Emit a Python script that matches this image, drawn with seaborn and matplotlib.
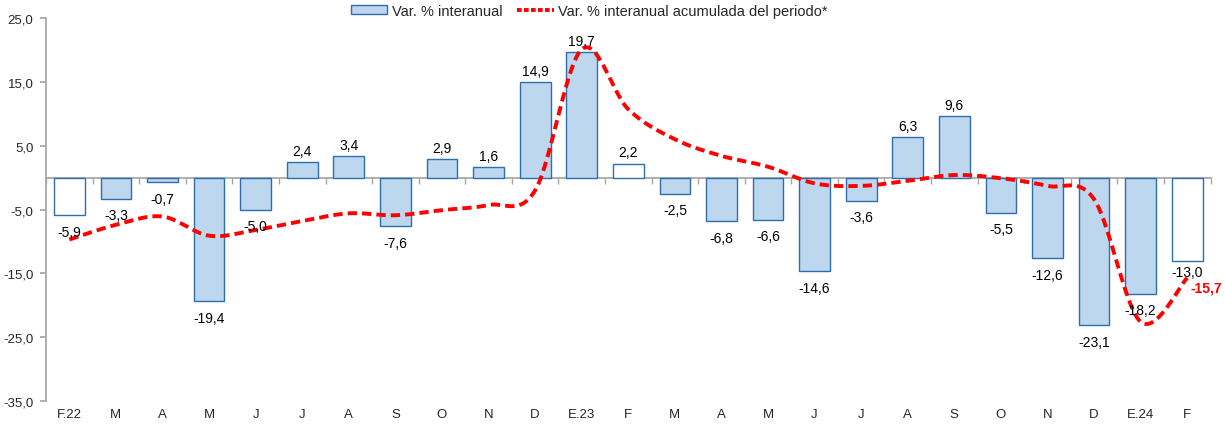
import numpy as np
import pandas as pd
import matplotlib
matplotlib.use("Agg")
import matplotlib.pyplot as plt
import matplotlib.ticker as ticker
from matplotlib.patches import Patch
from matplotlib.lines import Line2D
import seaborn as sns

sns.set_theme(style="white")
plt.rcParams['font.family'] = ['Liberation Sans', 'DejaVu Sans']
plt.rcParams['font.size'] = 9

# data
months = ["F.22", "M", "A", "M", "J", "J", "A", "S", "O", "N", "D", "E.23",
          "F", "M", "A", "M", "J", "J", "A", "S", "O", "N", "D", "E.24", "F"]
var_interanual = [-5.9, -3.3, -0.7, -19.4, -5.0, 2.4, 3.4, -7.6, 2.9, 1.6, 14.9, 19.7,
                  2.2, -2.5, -6.8, -6.6, -14.6, -3.6, 6.3, 9.6, -5.5, -12.6, -23.1, -18.2, -13.0]
var_acumulada = [-9.7, -7.4, -6.1, -9.1, -8.2, -6.8, -5.6, -5.9, -5.1, -4.3, -2.0, 20.1,
                 10.7, 6.0, 3.4, 1.7, -0.9, -1.3, -0.5, 0.4, -0.1, -1.3, -3.4, -22.6, -15.7]
hollow = [0, 12, 24]  # febreros en blanco
last_label = "-15,7"

BAR_FILL = "#BDD7EE"
BAR_EDGE = "#2E6DB0"
RED = "#FF0000"
GRAY = "#A6A6A6"


def fmt(v):
    return f"{v:.1f}".replace(".", ",")


def smooth(xs, ys, n=30):
    # curva suavizada tipo Excel (Catmull-Rom en segmentos Bezier)
    xs = np.asarray(xs, float)
    ys = np.asarray(ys, float)
    px = np.concatenate([[xs[0]], xs, [xs[-1]]])
    py = np.concatenate([[ys[0]], ys, [ys[-1]]])
    outx, outy = [], []
    t = np.linspace(0, 1, n)
    for i in range(1, len(px) - 2):
        p0 = np.array([px[i], py[i]])
        p3 = np.array([px[i + 1], py[i + 1]])
        p1 = p0 + (np.array([px[i + 1], py[i + 1]]) - np.array([px[i - 1], py[i - 1]])) / 6
        p2 = p3 - (np.array([px[i + 2], py[i + 2]]) - np.array([px[i], py[i]])) / 6
        b = ((1 - t) ** 3)[:, None] * p0 + (3 * (1 - t) ** 2 * t)[:, None] * p1 \
            + (3 * (1 - t) * t ** 2)[:, None] * p2 + (t ** 3)[:, None] * p3
        outx.extend(b[:, 0])
        outy.extend(b[:, 1])
    return np.array(outx), np.array(outy)


pos = np.arange(len(months))
df = pd.DataFrame({"pos": pos, "val": var_interanual})

fig = plt.figure(figsize=(12.25, 4.27), dpi=100)
ax = fig.add_axes([0.0376, 0.0585, 0.9506, 0.897])

sns.barplot(data=df, x="pos", y="val", color=BAR_FILL, saturation=1,
            width=0.66, edgecolor=BAR_EDGE, linewidth=1.0, ax=ax)
for i, p in enumerate(ax.patches):
    p.set_facecolor("white" if i in hollow else BAR_FILL)
    p.set_edgecolor(BAR_EDGE)

sx, sy = smooth(pos, var_acumulada)
sns.lineplot(x=sx, y=sy, color=RED, linewidth=2.8, sort=False, ax=ax,
             estimator=None, dashes=False)
ax.lines[-1].set_dashes((2.4, 1.3))

# etiquetas de barras
for i, v in enumerate(var_interanual):
    if v >= 0:
        ax.annotate(fmt(v), (i, v), xytext=(0, 3), textcoords="offset points",
                    ha="center", va="bottom", fontsize=10, color="black")
    else:
        dy = -3 if i == len(var_interanual) - 1 else -7
        ax.annotate(fmt(v), (i, v), xytext=(0, dy), textcoords="offset points",
                    ha="center", va="top", fontsize=10, color="black")
ax.annotate(last_label, (pos[-1], var_acumulada[-1]), xytext=(2, -7),
            textcoords="offset points", ha="left", va="center",
            fontsize=10, fontweight="bold", color=RED)

ax.set_xlim(-0.5, len(months) - 0.5)
ax.set_ylim(-35, 25)
ax.yaxis.set_major_locator(ticker.MultipleLocator(10, offset=5))
ax.yaxis.set_major_formatter(ticker.FuncFormatter(lambda v, p: fmt(v)))
ax.set_xlabel("")
ax.set_ylabel("")

for s in ["top", "right"]:
    ax.spines[s].set_visible(False)
ax.spines["left"].set_color(GRAY)
ax.spines["bottom"].set_color(GRAY)
ax.spines["bottom"].set_position(("data", 0))
ax.spines["bottom"].set_zorder(0.5)
ax.tick_params(axis="y", which="major", direction="out", length=4, color=GRAY,
               left=True, labelsize=9.5, pad=5)

ax.set_xticks(np.arange(-0.5, len(months), 1.0), minor=True)
ax.set_xticks([])
ax.tick_params(axis="x", which="minor", direction="out", length=4, color=GRAY, bottom=True)

sec = ax.secondary_xaxis("bottom")
sec.set_xticks(pos)
sec.set_xticklabels(months)
sec.tick_params(length=0, labelsize=9.5, pad=5)
sec.spines["bottom"].set_visible(False)

handles = [Patch(facecolor=BAR_FILL, edgecolor=BAR_EDGE, linewidth=1.0),
           Line2D([0], [0], color=RED, linewidth=2.8, dashes=(1.2, 0.6))]
fig.legend(handles, ["Var. % interanual", "Var. % interanual acumulada del periodo*"],
           loc="upper center", bbox_to_anchor=(0.481, 1.02), ncol=2, frameon=False,
           fontsize=10.5, handlelength=2.5, handleheight=0.5, handletextpad=0.3,
           columnspacing=1.0)

fig.savefig("out.png", dpi=100)
